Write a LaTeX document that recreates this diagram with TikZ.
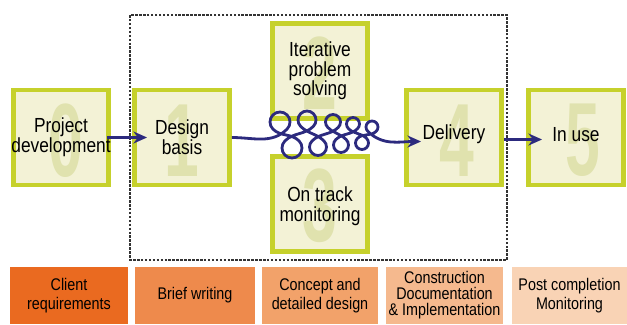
\documentclass[tikz,border=0pt]{standalone}
\usepackage{fontspec}
\setmainfont{Liberation Sans}[FakeStretch=0.85]
\newfontfamily\digitfont{Liberation Sans}[FakeStretch=0.6]
\usetikzlibrary{arrows.meta, calc}
\definecolor{boxLime}{HTML}{C6D12C}
\definecolor{boxCream}{HTML}{F3F2D6}
\definecolor{digitPale}{HTML}{E0E2AE}
\definecolor{loopNavy}{HTML}{2C2A7E}
\definecolor{barOne}{HTML}{EA6A20}
\definecolor{barTwo}{HTML}{EE8A4C}
\definecolor{barThree}{HTML}{F2A26A}
\definecolor{barFour}{HTML}{F5B98E}
\definecolor{barFive}{HTML}{F9D3B5}

\begin{document}
\begin{tikzpicture}[x=0.025cm, y=0.025cm,
    caja/.style={draw=boxLime, fill=boxCream, line width=3.5pt,
                 minimum size=2.375cm, inner sep=0pt},
    num/.style={font=\digitfont\bfseries\fontsize{74}{74}\selectfont,
                text=digitPale, inner sep=0pt},
    lbl/.style={font=\fontsize{14.5}{14}\selectfont, align=center, inner sep=0pt},
    barra/.style={minimum height=1.425cm, inner sep=0pt, align=center,
                  font=\fontsize{12}{13.5}\selectfont},
    fl/.style={-{Stealth[length=3.4mm, width=3mm]}, line width=2pt, color=loopNavy},
    marco/.style={draw=black!80, line width=0.8pt, dash pattern=on 1.8pt off 1pt}]
    \useasboundingbox (0,0) rectangle (627,324);

    % dashed frame round the design stages
    \draw[marco] (130,309) rectangle (507,64);

    % stage boxes
    \node[caja] (b0) at (61,186.5)  {};
    \node[caja] (b1) at (182,186.5) {};
    \node[caja] (b2) at (320,253)   {};
    \node[caja] (b3) at (320,120)   {};
    \node[caja] (b4) at (454,186.5) {};
    \node[caja] (b5) at (576,186.5) {};
    \node[num] at ($(b0)+(5,-3)$) {0};
    \node[num] at ($(b1)+(0,-3)$) {1};
    \node[num] at ($(b2)+(0,-2)$) {2};
    \node[num] at ($(b3)+(0,-2)$) {3};
    \node[num] at ($(b4)+(3,-3)$) {4};
    \node[num] at ($(b5)+(7,-3)$) {5};
    \node[lbl] (t0) at (b0) {Project\\development};
    \node[lbl] (t1) at (b1) {Design\\basis};
    \node[lbl] (t2) at (b2) {Iterative\\problem\\solving};
    \node[lbl] (t3) at ($(b3)+(0,-2)$) {On track\\monitoring};
    \node[lbl] (t4) at ($(b4)+(0,3)$) {Delivery};
    \node[lbl] (t5) at ($(b5)+(0,3)$) {In use};

    % loop centres
    \coordinate (l1) at (280,202); \coordinate (m1) at (292,176);
    \coordinate (l2) at (307,204); \coordinate (m2) at (318,177);
    \coordinate (l3) at (333,202); \coordinate (m3) at (341,179);
    \coordinate (l4) at (353,200); \coordinate (m4) at (362,181);
    \coordinate (l5) at (372,197);

    \draw[fl] ($(b0.east)+(-4,0)$) -- ($(b1.west)+(15,0)$);
    \draw[fl] (b1.east) to[out=0, in=-135] ($(l1)+(-45:10)$)
        arc[start angle=-45, end angle=225, radius=10]
        to[out=-45, in=135] ($(m1)+(45:10)$)
        arc[start angle=45, end angle=-225, radius=10]
        to[out=45, in=-135] ($(l2)+(-45:9)$)
        arc[start angle=-45, end angle=225, radius=9]
        to[out=-45, in=135] ($(m2)+(45:8.5)$)
        arc[start angle=45, end angle=-225, radius=8.5]
        to[out=45, in=-135] ($(l3)+(-45:7.5)$)
        arc[start angle=-45, end angle=225, radius=7.5]
        to[out=-45, in=135] ($(m3)+(45:7.5)$)
        arc[start angle=45, end angle=-225, radius=7.5]
        to[out=45, in=-135] ($(l4)+(-45:6.5)$)
        arc[start angle=-45, end angle=225, radius=6.5]
        to[out=-45, in=135] ($(m4)+(45:6.5)$)
        arc[start angle=45, end angle=-225, radius=6.5]
        to[out=45, in=-135] ($(l5)+(-45:6)$)
        arc[start angle=-45, end angle=225, radius=6]
        to[out=-45, in=180] ($(b4.west)+(17,-4)$);
    \draw[fl] ($(b4.east)+(0,-2)$) -- ($(b5.west)+(16,-2)$);

    % phase bars
    \node[barra, fill=barOne, minimum width=2.95cm]    (p0) at (69,28.5)    {Client\\requirements};
    \node[barra, fill=barTwo, minimum width=3cm]       (p1) at (195,28.5)   {Brief writing};
    \node[barra, fill=barThree, minimum width=2.9cm]   (p2) at (320,28.5)   {Concept and\\detailed design};
    \node[barra, fill=barFour, minimum width=2.925cm,
          font=\fontsize{12}{11.4}\selectfont]         (p3) at (444.5,28.5) {Construction\\Documentation\\\& Implementation};
    \node[barra, fill=barFive, minimum width=2.875cm]  (p4) at (569.5,28.5) {Post completion\\Monitoring};
\end{tikzpicture}
\end{document}
